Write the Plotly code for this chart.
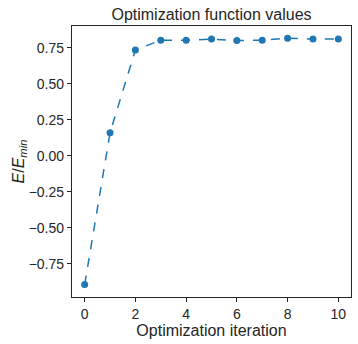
import plotly.graph_objects as go

iterations = [0, 1, 2, 3, 4, 5, 6, 7, 8, 9, 10]
energy_ratio = [-0.895, 0.16, 0.735, 0.802, 0.802, 0.81, 0.8, 0.802, 0.816, 0.81, 0.81]

x_tickvals = [0, 2, 4, 6, 8, 10]
y_tickvals = [-0.75, -0.5, -0.25, 0.0, 0.25, 0.5, 0.75]
y_ticktext = ["\u22120.75", "\u22120.50", "\u22120.25", "0.00", "0.25", "0.50", "0.75"]

color = "#1f77b4"
dark = "#262626"
font = "Liberation Sans, Arial, sans-serif"

fig = go.Figure()
fig.add_trace(go.Scatter(
    x=iterations, y=energy_ratio, mode="lines+markers",
    line=dict(color=color, width=1.5, dash="dash"),
    marker=dict(color=color, size=7),
    showlegend=False,
))

axis_common = dict(
    showline=True, mirror=True, linecolor=dark, linewidth=1.25,
    ticks="outside", ticklen=4, tickwidth=1.25, tickcolor=dark,
    showgrid=False, zeroline=False,
    tickfont=dict(family=font, size=14, color=dark),
)

fig.update_layout(
    width=358, height=344,
    margin=dict(l=72, r=7, t=26, b=47),
    paper_bgcolor="white", plot_bgcolor="white",
    title=dict(text="Optimization function values", x=0.5, xref="paper",
               y=1, yref="paper", yanchor="bottom", pad=dict(b=6),
               font=dict(family=font, size=16, color=dark)),
    xaxis=dict(range=[-0.5, 10.5], tickvals=x_tickvals,
               title=dict(text="Optimization iteration", standoff=1,
                          font=dict(family=font, size=16, color=dark)),
               **axis_common),
    yaxis=dict(range=[-0.981, 0.901], tickvals=y_tickvals, ticktext=y_ticktext,
               title=dict(text="<i>E</i>/<i>E</i><sub><i>min</i></sub>", standoff=0,
                          font=dict(family=font, size=16, color=dark)),
               **axis_common),
)

fig.write_html("out.html")
